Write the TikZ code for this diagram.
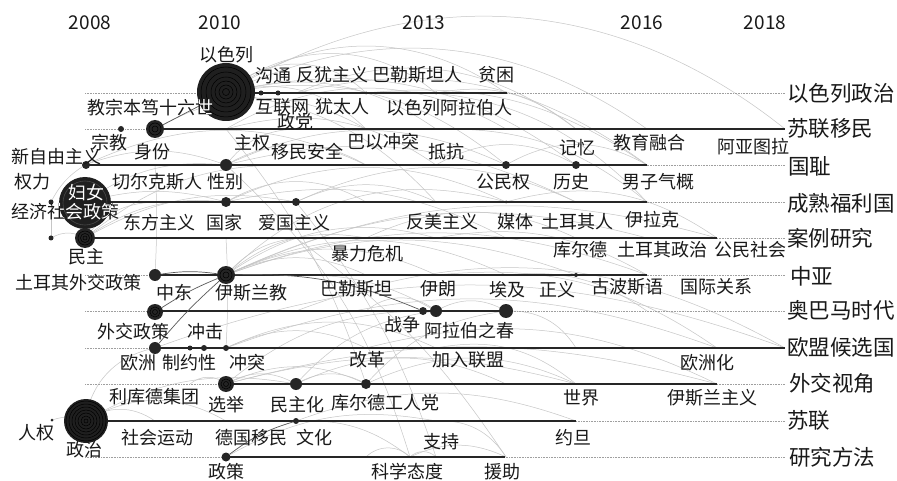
\documentclass[tikz,border=0pt]{standalone}
\usepackage{fontspec}
\newfontfamily\cjk{Noto Sans CJK SC}
\begin{document}
\begin{tikzpicture}[x=1pt,y=-1pt,
 lane/.style={line width=1.8pt, black!85},
 dlane/.style={densely dotted, gray!75, line width=0.6pt},
 link/.style={gray!45, line width=0.5pt},
 dlink/.style={black!65, line width=0.7pt},
 kw/.style={circle, fill=black!85, inner sep=0pt},
 ring/.style={draw=black, line width=0.5pt},
 lab/.style={font=\cjk\fontsize{18}{18}\selectfont, inner sep=0pt, text=black!90},
 lanelab/.style={font=\cjk\fontsize{21.5}{22}\selectfont, inner sep=0pt, anchor=west, text=black!90},
 yr/.style={font=\cjk\fontsize{19}{19}\selectfont, inner sep=0pt, text=black!90}]
\useasboundingbox (0,0) rectangle (897,481);
\fill[white] (0,0) rectangle (897,481);

% grid coordinates: column (year) x lane
\foreach \c/\x in {0/85,1/155,2/226,3/296,4/366,5/436,6/506,7/576,8/647,9/717,10/785}{
  \foreach \l/\y in {0/93,1/129,2/165,3/202,4/238,5/275,6/311,7/348,8/384,9/421,10/457}{
    \coordinate (g\c-\l) at (\x,\y);
  }
}
\coordinate (ql) at (51,202);
\coordinate (jj) at (51,238);
\coordinate (rq) at (52,420);
\coordinate (ldjt) at (190,384);
\coordinate (kxtd) at (410,457);
\coordinate (zzw) at (423,311);

% ---------- links ----------
\foreach \a/\b/\n in {
 g2-0/g10-1/35, g2-0/g8-1/30, g2-0/g6-0/35, g2-0/g5-0/40, g2-0/g4-0/45,
 g2-0/g5-1/25, g2-0/g4-1/30, g2-0/g6-2/25, g2-0/g7-2/25, g2-0/g5-3/20,
 g3-0/g7-1/30, g3-0/g8-2/25, g4-0/g8-3/25, g4-0/g8-2/20, g5-0/g7-1/25,
 g1-1/g4-1/30, g0-2/g2-2/20, g0-2/g4-2/25,
 g2-1/g6-1/30, g2-1/g5-2/25, g2-2/g4-2/30, g2-2/g6-2/25, g2-2/g3-1/25,
 g2-2/g7-3/20, g2-3/g4-3/30, g2-3/g6-3/25, g2-3/g6-4/20, g3-3/g7-3/25,
 g3-3/g5-3/25, g0-3/g2-2/20, g0-3/g2-3/15, g0-4/g1-3/25, g0-4/g2-3/20,
 g0-4/g3-3/20, g0-4/g3-2/20, jj/g0-4/30, ql/g0-2/15,
 g2-5/g3-4/20, g2-5/g4-4/25, g2-5/g5-4/25, g2-5/g4-5/25, g2-5/g5-5/25,
 g2-5/g6-5/25, g2-5/g7-5/20, g2-5/g8-5/20, g2-5/g9-4/20, g2-5/g8-4/20,
 g2-5/g6-3/30, g1-7/g10-7/20, g2-7/g9-7/20, g2-7/g4-7/25, g2-7/g5-7/25,
 ldjt/g2-8/40, g2-8/g3-8/30, g2-8/g4-8/25, g2-8/g5-6/20, g2-8/g7-8/15,
 g2-8/g9-8/15, g3-8/g4-8/30, g3-8/g6-8/25, g3-8/g5-6/20, g4-8/g6-6/20,
 g4-8/g7-8/25, g0-9/g1-7/35, g0-9/g1-9/35, g0-9/g2-9/30, g0-9/g3-8/20,
 rq/g0-9/20, g2-10/g5-9/20, g3-9/kxtd/20, g4-10/kxtd/45, kxtd/g5-10/45,
 kxtd/g6-10/25, g5-9/g6-10/30, g3-9/g7-9/20,
 g2-2/kxtd/15, g3-3/g5-10/10, g3-4/g6-10/10, g2-1/g4-8/10,
 g5-1/g8-3/20, g6-3/g9-4/25, g5-4/g8-5/20, g5-5/g9-7/20, g3-6/g10-7/25,
 g4-7/g9-8/20, g6-6/g7-7/30, g5-7/g7-8/25, g4-4/g7-4/25, g5-2/g7-2/30,
 g6-2/g8-2/30, g3-5/g5-6/15, g4-6/g5-6/40, g5-6/g6-6/30, g6-5/g8-6/20}
 {\draw[link] (\a) to[bend left=\n] (\b);}
\draw[link] (g1-2) to[bend left=3] (g1-5);
\draw[link] (g2-4) to[bend left=3] (g2-7);
\draw[link] (ql) -- (jj);

% ---------- lanes ----------
\node[lanelab] (ln0) at (787,93) {以色列政治};
\node[lanelab] (ln1) at (787,128) {苏联移民};
\node[lanelab] (ln2) at (788,166) {国耻};
\node[lanelab] (ln3) at (787,203) {成熟福利国};
\node[lanelab] (ln4) at (787,238) {案例研究};
\node[lanelab] (ln5) at (790,276) {中亚};
\node[lanelab] (ln6) at (787,310) {奥巴马时代};
\node[lanelab] (ln7) at (787,347) {欧盟候选国};
\node[lanelab] (ln8) at (789,383) {外交视角};
\node[lanelab] (ln9) at (787,420) {苏联};
\node[lanelab] (ln10) at (789,457) {研究方法};

\foreach \l in {0,...,10}{\draw[dlane] (g0-\l) -- (g10-\l);}
\draw[lane] (g2-0) -- (507,93);
\draw[lane] (g1-1) -- (g10-1);
\draw[lane] (g0-2) -- (g8-2);
\draw[lane] (g0-3) -- (g8-3);
\draw[lane] (g0-4) -- (g9-4);
\draw[lane] (g1-5) -- (g8-5);
\draw[lane] (g1-6) -- (g6-6);
\draw[lane] (g1-7) -- (g10-7);
\draw[lane] (g2-8) -- (g9-8);
\draw[lane] (g0-9) -- (g7-9);
\draw[lane] (g2-10) -- (505,457);

% ---------- nodes ----------
\node[kw,minimum size=58pt,fill=black!88] (isr) at (226,92) {};
\foreach \r in {25,20,15,11,7,3.5}{\draw[ring] (isr) circle[radius=\r pt];}
\node[kw,minimum size=44pt,fill=black!88] (zz) at (86,421) {};
\foreach \r in {20,17,14,11,8,5,2}{\draw[ring] (zz) circle[radius=\r pt];}
\node[kw,minimum size=52pt,fill=black!88] (fn) at (85,203) {};
\draw[draw=black!72,line width=0.6pt] (fn) circle[radius=22pt];
\node[kw,minimum size=20pt,fill=black!86] (mz) at (85,238) {};
\foreach \r in {7,4.5,2}{\draw[ring] (mz) circle[radius=\r pt];}
\node[kw,minimum size=18pt,fill=black!86] (sf) at (155,129) {};
\foreach \r in {6,3}{\draw[ring] (sf) circle[radius=\r pt];}
\node[kw,minimum size=18pt,fill=black!86] (ysl) at (226,275) {};
\foreach \r in {6,3}{\draw[ring] (ysl) circle[radius=\r pt];}
\node[kw,minimum size=16pt,fill=black!86] (xj) at (226,384) {};
\foreach \r in {5,2.5}{\draw[ring] (xj) circle[radius=\r pt];}
\node[kw,minimum size=16pt,fill=black!86] (wjzc) at (155,312) {};
\foreach \r in {5,2.5}{\draw[ring] (wjzc) circle[radius=\r pt];}
\node[kw,minimum size=14pt] (aj) at (506,311) {};
\node[kw,minimum size=12pt] (albzc) at (436,311) {};
\node[kw,minimum size=8pt] (zzg) at (423,311) {};
\node[kw,minimum size=12pt] (zd) at (155,275) {};
\node[kw,minimum size=12pt] (oz) at (155,348) {};
\node[kw,minimum size=12pt] (mzh) at (296,384) {};
\node[kw,minimum size=10pt] (kedgrd) at (366,384) {};
\node[kw,minimum size=12pt] (xb) at (226,165) {};
\node[kw,minimum size=10pt] (gj) at (226,202) {};
\node[kw,minimum size=8pt] (agzy) at (296,202) {};
\node[kw,minimum size=8pt] (xzy) at (86,165) {};
\node[kw,minimum size=8pt] (gmq) at (506,165) {};
\node[kw,minimum size=8pt] (ls) at (576,165) {};
\node[kw,minimum size=9pt] (zc) at (226,457) {};
\node[kw,minimum size=6pt] (zj) at (121,129) {};
\node[kw,minimum size=5pt] (gt) at (261,93) {};
\node[kw,minimum size=5pt] (hlw) at (278,93) {};
\node[kw,minimum size=3pt] (ytr) at (366,93) {};
\node[kw,minimum size=3pt] (bl) at (436,93) {};
\node[kw,minimum size=3pt] (mt) at (506,202) {};
\node[kw,minimum size=4pt] (zy) at (576,275) {};
\node[kw,minimum size=5pt] (zyx) at (190,348) {};
\node[kw,minimum size=6pt] (cj) at (204,348) {};
\node[kw,minimum size=6pt] (ct) at (226,348) {};
\node[kw,minimum size=6pt] (wh) at (296,421) {};
\node[kw,minimum size=5pt] (qln) at (51,202) {};
\node[kw,minimum size=5pt] (jjn) at (51,238) {};
\node[kw,minimum size=3pt] (rqn) at (52,420) {};

% darker links
\draw[dlink] (sf) -- (isr);
\draw[dlink] (zd) to[bend left=8] (ysl);
\draw[dlink] (wjzc) to[bend left=5] (ysl);
\draw[dlink] (ysl) to[bend left=12] (zzg);
\draw[dlink] (zc) to[bend left=10] (wh);
\draw[dlink] (oz) to[bend left=4] (ysl);

% ---------- years ----------
\node[yr] (y2008) at (90,23) {2008};
\node[yr] (y2010) at (220,23) {2010};
\node[yr] (y2013) at (424,23) {2013};
\node[yr] (y2016) at (642,23) {2016};
\node[yr] (y2018) at (765,23) {2018};

% ---------- labels ----------
\foreach \t/\x/\y in {
 以色列/226/55, 沟通/273/76, 反犹主义/332/75, 巴勒斯坦人/417/75, 贫困/496/75,
 互联网/282/107, 犹太人/342/107, 以色列阿拉伯人/449/108, 政党/295/122,
 教宗本笃十六世/150/108, 宗教/109/143, 身份/152/152, 主权/252/143, 移民安全/307/152,
 巴以冲突/383/142, 抵抗/446/152, 记忆/577/148, 教育融合/649/143, 阿亚图拉/753/147,
 新自由主义/56/157, 权力/32/182, 切尔克斯人/157/182, 性别/225/182, 公民权/503/182,
 历史/571/182, 男子气概/658/182, 经济社会政策/65/212, 东方主义/159/223, 国家/224/223,
 爱国主义/294/223, 反美主义/442/222, 媒体/515/222, 土耳其人/577/222, 伊拉克/652/220,
 民主/86/257, 暴力危机/367/254, 库尔德/580/250, 土耳其政治/662/250, 公民社会/750/250,
 土耳其外交政策/79/283, 中东/174/293, 伊斯兰教/251/293, 巴勒斯坦/356/289, 伊朗/438/289,
 埃及/507/290, 正义/557/290, 古波斯语/627/287, 国际关系/716/287,
 外交政策/133/332, 冲击/205/332, 战争/402/325, 阿拉伯之春/469/331,
 欧洲/138/363, 制约性/189/363, 冲突/247/363, 改革/367/360, 加入联盟/468/360, 欧洲化/707/363,
 利库德集团/154/397, 选举/226/405, 民主化/297/405, 库尔德工人党/385/403, 世界/581/398,
 伊斯兰主义/712/398, 人权/36/433, 政治/84/450, 社会运动/157/438, 德国移民/251/438,
 文化/314/438, 支持/441/442, 约旦/573/438, 政策/226/472, 科学态度/407/472, 援助/502/472}
 {\node[lab] (t-\x-\y) at (\x,\y) {\t};}

% white text over the big circles
\node[lab,text=white] (fnlab) at (86,193) {妇女};
\begin{scope}
 \clip (fn) circle[radius=26pt];
 \node[lab,text=white] (fnover) at (65,212) {经济社会政策};
\end{scope}
\begin{scope}
 \clip (isr) circle[radius=29pt];
 \node[lab,text=white] (isrover) at (150,108) {教宗本笃十六世};
\end{scope}
\end{tikzpicture}
\end{document}
